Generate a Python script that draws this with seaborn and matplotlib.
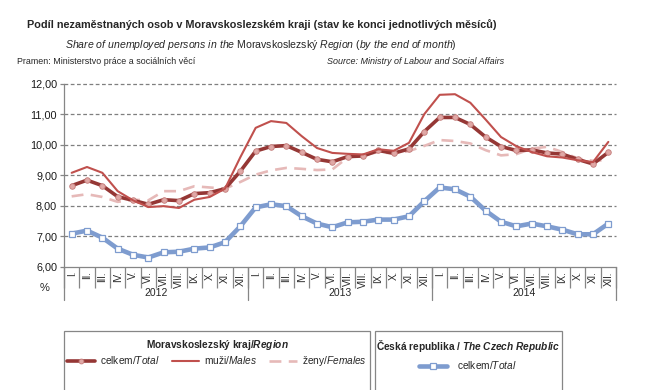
import numpy as np
import pandas as pd
import matplotlib.pyplot as plt
import seaborn as sns
from matplotlib.lines import Line2D
from matplotlib.patches import Rectangle

# data (share of unemployed, %)
years = ['2012', '2013', '2014']
months = ['I.', 'II.', 'III.', 'IV.', 'V.', 'VI.', 'VII.', 'VIII.', 'IX.', 'X.', 'XI.', 'XII.']

msk_total = [8.66, 8.84, 8.66, 8.30, 8.18, 8.05, 8.20, 8.17, 8.40, 8.43, 8.56, 9.13,
             9.79, 9.94, 9.97, 9.75, 9.52, 9.44, 9.61, 9.63, 9.81, 9.72, 9.86, 10.43,
             10.89, 10.89, 10.66, 10.25, 9.94, 9.81, 9.83, 9.73, 9.69, 9.52, 9.37, 9.75]
msk_males = [9.08, 9.27, 9.08, 8.48, 8.18, 7.96, 7.99, 7.93, 8.20, 8.29, 8.56, 9.59,
             10.55, 10.77, 10.71, 10.28, 9.89, 9.73, 9.70, 9.68, 9.85, 9.80, 10.06, 11.00,
             11.63, 11.65, 11.37, 10.82, 10.25, 9.95, 9.76, 9.62, 9.58, 9.49, 9.43, 10.09]
msk_females = [8.31, 8.38, 8.29, 8.13, 8.20, 8.18, 8.48, 8.48, 8.64, 8.60, 8.56, 8.78,
               9.02, 9.16, 9.24, 9.21, 9.17, 9.19, 9.58, 9.65, 9.76, 9.71, 9.79, 9.96,
               10.15, 10.12, 10.04, 9.82, 9.65, 9.69, 9.87, 9.93, 9.76, 9.55, 9.47, 9.50]
cr_total = [7.09, 7.19, 6.96, 6.60, 6.40, 6.31, 6.48, 6.50, 6.60, 6.64, 6.81, 7.33,
            7.95, 8.05, 7.99, 7.66, 7.42, 7.30, 7.46, 7.48, 7.55, 7.55, 7.66, 8.15,
            8.60, 8.54, 8.30, 7.84, 7.48, 7.33, 7.42, 7.33, 7.22, 7.07, 7.07, 7.42]

sns.set_theme(style='white')
plt.rcParams['font.family'] = ['Liberation Sans', 'DejaVu Sans']
plt.rcParams['mathtext.fontset'] = 'custom'
plt.rcParams['mathtext.rm'] = 'Liberation Sans'
plt.rcParams['mathtext.it'] = 'Liberation Sans:italic'
plt.rcParams['mathtext.bf'] = 'Liberation Sans:bold'
plt.rcParams['mathtext.bfit'] = 'Liberation Sans:bold:italic'

c_total = '#953735'
c_males = '#C0504D'
c_fem = '#E6B9B8'
c_cr = '#7E9CCF'
gray = '#868686'

n = len(msk_total)
df = pd.DataFrame({'m': np.arange(n), 'total': msk_total, 'males': msk_males,
                   'females': msk_females, 'cr': cr_total})

W, H = 645, 390
fig = plt.figure(figsize=(W / 100, H / 100), dpi=100)
ax = fig.add_axes([64 / W, 1 - 267 / H, (616 - 64) / W, (267 - 83.5) / H])

sns.lineplot(data=df, x='m', y='cr', ax=ax, color=c_cr, lw=3.3, marker='s', ms=4.5,
             mfc='white', mec=c_cr, mew=0.9, zorder=3)
sns.lineplot(data=df, x='m', y='females', ax=ax, color=c_fem, lw=1.9,
             linestyle=(0, (4.5, 2.8)), zorder=3)
sns.lineplot(data=df, x='m', y='total', ax=ax, color=c_total, lw=2.6, marker='o', ms=4,
             mfc='#E0A8A6', mec='#C47C7A', mew=0.6, zorder=4)
sns.lineplot(data=df, x='m', y='males', ax=ax, color=c_males, lw=1.5, zorder=5)

ax.set_xlim(-0.5, n - 0.5)
ax.set_ylim(6, 12)
ax.set_yticks(range(6, 13))
ax.set_yticklabels([f'{v},00' for v in range(6, 13)], fontsize=7.8, color='#1a1a1a')
ax.set_xticks(np.arange(n))
ax.set_xticklabels(months * len(years), rotation=90, fontsize=7, va='top')
ax.set_xticks(np.arange(-0.5, n, 1), minor=True)
ax.tick_params(axis='x', which='major', length=0, pad=3)
ax.tick_params(axis='x', which='minor', length=15, width=0.9, color=gray, bottom=True)
ax.tick_params(axis='y', length=3, width=0.9, color=gray, left=True, pad=2)
ax.set_xlabel('')
ax.set_ylabel('')

ax.grid(False)
for v in range(7, 13):
    ax.axhline(v, color='#7f7f7f', lw=0.9, ls=(0, (3, 2)), zorder=1, clip_on=False)
for s in ['top', 'right']:
    ax.spines[s].set_visible(False)
for s in ['left', 'bottom']:
    ax.spines[s].set_color(gray)
    ax.spines[s].set_linewidth(0.9)

# year separators and year labels below the month labels
xt = ax.get_xaxis_transform()
for k in range(len(years) + 1):
    ax.plot([k * 12 - 0.5] * 2, [0, -33 / 183.5], transform=xt, color=gray, lw=0.9,
            clip_on=False)
for k, y in enumerate(years):
    ax.text(k * 12 + 5.5, -0.142, y, transform=xt, ha='center', va='center', fontsize=7.5)

fig.text(45 / W, 1 - 288 / H, '%', ha='center', va='center', fontsize=8)

# titles
fig.text(262 / W, 1 - 25 / H,
         'Podíl nezaměstnaných osob v Moravskoslezském kraji (stav ke konci jednotlivých měsíců)',
         ha='center', va='center', fontsize=7.8, fontweight='bold')
fig.text(261 / W, 1 - 45 / H,
         r'$\mathit{Share\ of\ unemployed\ persons\ in\ the}$ Moravskoslezský '
         r'$\mathit{Region\ (by\ the\ end\ of\ month)}$',
         ha='center', va='center', fontsize=7.6)
fig.text(17 / W, 1 - 61 / H, 'Pramen: Ministerstvo práce a sociálních věcí',
         ha='left', va='center', fontsize=6.4)
fig.text(504 / W, 1 - 61 / H, 'Source: Ministry of Labour and Social Affairs',
         ha='right', va='center', fontsize=6.5, fontstyle='italic')

# legend boxes
for x0, x1 in [(64, 370), (375, 562)]:
    fig.add_artist(Rectangle((x0 / W, -0.05), (x1 - x0) / W, (H - 330.7) / H + 0.05,
                             transform=fig.transFigure, fill=False, ec=gray, lw=0.9))

h_total = Line2D([], [], color=c_total, lw=2.6, marker='o', ms=3.5, mfc='#E0A8A6',
                 mec='#C47C7A', mew=0.6)
h_males = Line2D([], [], color=c_males, lw=1.5)
h_fem = Line2D([], [], color=c_fem, lw=1.9, ls=(0, (4.5, 2.8)))
h_cr = Line2D([], [], color=c_cr, lw=3.3, marker='s', ms=4, mfc='white', mec=c_cr, mew=0.9)

leg1 = fig.legend([h_total, h_males, h_fem],
                  [r'celkem/$\mathit{Total}$', r'muži/$\mathit{Males}$', r'ženy/$\mathit{Females}$'],
                  loc='upper center', bbox_to_anchor=(217 / W, 1 - 331 / H), ncol=3,
                  frameon=False, fontsize=7.3, handlelength=2.7, columnspacing=1.2,
                  handletextpad=0.5, borderpad=0.2, labelspacing=0.2,
                  title=r'Moravskoslezský kraj/$\mathbfit{Region}$',
                  title_fontproperties={'weight': 'bold', 'size': 7.3})
leg2 = fig.legend([h_cr], [r'celkem/$\mathit{Total}$'],
                  loc='upper center', bbox_to_anchor=(468 / W, 1 - 331 / H), ncol=1,
                  frameon=False, fontsize=7.3, handlelength=2.7, handletextpad=1.0,
                  borderpad=0.2,
                  title=r'Česká republika / $\mathbfit{The\ Czech\ Republic}$',
                  title_fontproperties={'weight': 'bold', 'size': 7.3})

fig.savefig('out.png', dpi=100)
